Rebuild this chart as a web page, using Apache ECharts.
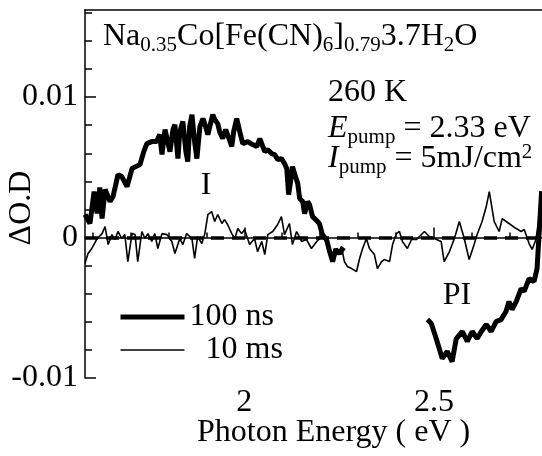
<!DOCTYPE html>
<html>
<head>
<meta charset="utf-8">
<script src="https://cdn.jsdelivr.net/npm/echarts@6/dist/echarts.min.js"></script>
<style>
  html, body { margin: 0; background: #fff; }
  #chart { width: 542px; height: 456px; }
</style>
</head>
<body>
<div id="chart"></div>
<script>
// 100 ns, low energy part (I)
const ns100LowE = [1.580, 1.593, 1.604, 1.612, 1.619, 1.625, 1.633, 1.646, 1.654, 1.667, 1.677, 1.691, 1.704, 1.714, 1.725,
  1.735, 1.743, 1.756, 1.769, 1.777, 1.783, 1.791, 1.796, 1.804, 1.812, 1.817, 1.825, 1.830, 1.838, 1.846, 1.851, 1.856,
  1.862, 1.869, 1.875, 1.883, 1.891, 1.898, 1.904, 1.909, 1.917, 1.922, 1.930, 1.935, 1.943, 1.951, 1.956, 1.967, 1.972,
  1.980, 1.988, 1.996, 2.009, 2.022, 2.033, 2.041, 2.046, 2.054, 2.062, 2.072, 2.080, 2.088, 2.098, 2.106, 2.112, 2.117,
  2.122, 2.127, 2.135, 2.141, 2.146, 2.154, 2.159, 2.167, 2.172, 2.180, 2.188, 2.198, 2.206, 2.217, 2.225, 2.233, 2.241,
  2.251, 2.262];
const ns100LowOD = [0.00164, 0.00100, 0.00327, 0.00171, 0.00356, 0.00135, 0.00342, 0.00256, 0.00292, 0.00448, 0.00434,
  0.00363, 0.00491, 0.00505, 0.00520, 0.00612, 0.00669, 0.00683, 0.00683, 0.00733, 0.00591, 0.00769, 0.00776, 0.00612,
  0.00769, 0.00804, 0.00562, 0.00754, 0.00826, 0.00612, 0.00541, 0.00790, 0.00875, 0.00683, 0.00562, 0.00790, 0.00847,
  0.00790, 0.00733, 0.00790, 0.00875, 0.00840, 0.00811, 0.00754, 0.00705, 0.00769, 0.00776, 0.00648, 0.00754, 0.00847,
  0.00754, 0.00669, 0.00683, 0.00662, 0.00648, 0.00705, 0.00705, 0.00612, 0.00626, 0.00598, 0.00591, 0.00555, 0.00562,
  0.00527, 0.00491, 0.00306, 0.00399, 0.00505, 0.00434, 0.00384, 0.00278, 0.00256, 0.00171, 0.00256, 0.00235, 0.00149,
  0.00128, 0.00100, 0.00021, -0.00014, -0.00100, -0.00171, -0.00085, -0.00114, -0.00071];

// 100 ns, high energy part (PI)
const ns100HighE = [2.483, 2.493, 2.506, 2.522, 2.535, 2.548, 2.559, 2.575, 2.588, 2.601, 2.614, 2.625, 2.638, 2.651,
  2.664, 2.677, 2.690, 2.698, 2.706, 2.717, 2.730, 2.738, 2.751, 2.764, 2.772, 2.780, 2.784];
const ns100HighOD = [-0.00584, -0.00612, -0.00719, -0.00861, -0.00811, -0.00883, -0.00719, -0.00669, -0.00740, -0.00669,
  -0.00719, -0.00669, -0.00619, -0.00669, -0.00598, -0.00584, -0.00527, -0.00456, -0.00512, -0.00456, -0.00363, -0.00384,
  -0.00292, -0.00313, -0.00221, 0.00149, 0.00330];

// 10 ms
const ms10E = [1.580, 1.588, 1.598, 1.612, 1.625, 1.633, 1.641, 1.651, 1.659, 1.667, 1.677, 1.685, 1.693, 1.704, 1.712,
  1.719, 1.730, 1.738, 1.746, 1.756, 1.764, 1.772, 1.783, 1.796, 1.809, 1.817, 1.830, 1.838, 1.848, 1.862, 1.869, 1.877,
  1.888, 1.896, 1.904, 1.914, 1.922, 1.930, 1.941, 1.948, 1.956, 1.967, 1.975, 1.983, 1.993, 2.001, 2.014, 2.027, 2.035,
  2.046, 2.054, 2.062, 2.075, 2.088, 2.098, 2.106, 2.119, 2.127, 2.138, 2.151, 2.164, 2.177, 2.191, 2.204, 2.212, 2.219,
  2.230, 2.238, 2.246, 2.256, 2.264, 2.272, 2.283, 2.296, 2.304, 2.312, 2.322, 2.330, 2.343, 2.351, 2.362, 2.369, 2.383,
  2.391, 2.401, 2.409, 2.417, 2.430, 2.441, 2.454, 2.475, 2.488, 2.501, 2.519, 2.527, 2.541, 2.554, 2.567, 2.580, 2.593,
  2.606, 2.614, 2.627, 2.638, 2.646, 2.659, 2.672, 2.680, 2.698, 2.717, 2.730, 2.738, 2.751, 2.759, 2.769, 2.777, 2.784];
const ms10OD = [-0.00185, -0.00114, -0.00078, -0.00007, 0.00028, 0.00078, -0.00050, 0.00021, -0.00014, 0.00043, -0.00007,
  0.00021, -0.00171, 0.00028, 0.00021, -0.00171, 0.00043, -0.00007, 0.00028, -0.00028, 0.00028, -0.00078, 0.00028,
  0.00021, -0.00028, -0.00114, -0.00007, -0.00050, 0.00028, -0.00007, -0.00149, 0.00007, -0.00043, 0.00028, 0.00164,
  0.00185, 0.00114, 0.00164, 0.00100, 0.00128, 0.00093, 0.00028, -0.00007, 0.00064, 0.00028, 0.00057, -0.00050, -0.00007,
  -0.00100, -0.00028, -0.00121, 0.00021, 0.00043, 0.00093, 0.00149, 0.00021, 0.00100, -0.00050, 0.00043, -0.00028,
  -0.00014, -0.00078, -0.00028, 0.00007, -0.00014, -0.00064, -0.00171, -0.00078, -0.00121, -0.00064, -0.00171, -0.00206,
  -0.00221, -0.00242, -0.00149, -0.00078, -0.00007, -0.00078, -0.00121, -0.00221, -0.00171, -0.00157, -0.00171, -0.00050,
  0.00028, 0.00043, -0.00028, -0.00078, -0.00014, -0.00014, 0.00043, 0.00007, -0.00007, -0.00028, -0.00171, -0.00100,
  -0.00007, 0.00114, -0.00007, -0.00157, -0.00050, 0.00021, 0.00114, 0.00221, 0.00327, 0.00114, 0.00043, 0.00135, 0.00100,
  0.00064, 0.00043, 0.00057, -0.00043, -0.00085, -0.00014, 0.00135, 0.00290];

// ticks
const xMinorTicks = [1.6, 1.7, 1.8, 1.9, 2.0, 2.1, 2.2, 2.3, 2.4, 2.5, 2.6, 2.7];
const xMajorTicks = [2, 2.5];
const yMinorTicks = [-0.008, -0.006, -0.004, -0.002, 0.002, 0.004, 0.006, 0.008, 0.012, 0.014, 0.016];
const yMajorTicks = [-0.01, 0, 0.01];

const FONT = 'Liberation Serif';
const FS = 32;
const SUB = 21;

const zip = (xs, ys) => xs.map((x, i) => [x, ys[i]]);
const ns100Data = zip(ns100LowE, ns100LowOD).concat([[2.37, null]], zip(ns100HighE, ns100HighOD));
const ms10Data = zip(ms10E, ms10OD);

const xMin = 1.58, xMax = 2.785;
const yMin = -0.01, yMax = 0.0162;

const txt = { fontFamily: FONT, fontSize: FS, lineHeight: 36, fill: '#000' };
const sub = { fontFamily: FONT, fontSize: SUB, lineHeight: 36, padding: [17, 0, 0, 0], fill: '#000' };
const sup = { fontFamily: FONT, fontSize: SUB, lineHeight: 36, padding: [0, 0, 13, 0], fill: '#000' };
const ital = Object.assign({}, txt, { fontStyle: 'italic' });
const plain = s => ({ text: '{m|' + s + '}', rich: { m: txt } });

const chart = echarts.init(document.getElementById('chart'));
chart.setOption({
  animation: false,
  backgroundColor: '#fff',
  grid: { left: 85, right: 0, top: 10, bottom: 78 },
  xAxis: [
    {
      type: 'value', min: xMin, max: xMax, position: 'bottom',
      axisLine: { lineStyle: { color: '#000', width: 1.5 } },
      axisTick: { inside: true, length: 5, customValues: xMinorTicks, lineStyle: { color: '#000', width: 1.5 } },
      axisLabel: {
        customValues: xMajorTicks, margin: 9, color: '#000', fontFamily: FONT, fontSize: FS,
        formatter: v => String(v)
      },
      splitLine: { show: false }
    },
    {
      type: 'value', min: xMin, max: xMax, position: 'bottom',
      axisLine: { show: false },
      axisTick: { inside: true, length: 10, customValues: xMajorTicks, lineStyle: { color: '#000', width: 1.5 } },
      axisLabel: { show: false },
      splitLine: { show: false }
    },
    {
      type: 'value', min: xMin, max: xMax, position: 'top',
      axisLine: { lineStyle: { color: '#000', width: 1.5 } },
      axisTick: { show: false },
      axisLabel: { show: false },
      splitLine: { show: false }
    }
  ],
  yAxis: [
    {
      type: 'value', min: yMin, max: yMax, position: 'left',
      axisLine: { lineStyle: { color: '#000', width: 1.5 } },
      axisTick: { inside: true, length: 7, customValues: yMinorTicks, lineStyle: { color: '#000', width: 1.5 } },
      axisLabel: {
        customValues: yMajorTicks, margin: 7, color: '#000', fontFamily: FONT, fontSize: FS,
        formatter: v => (Math.abs(v) < 1e-9 ? '0' : String(+v.toFixed(2)))
      },
      splitLine: { show: false }
    },
    {
      type: 'value', min: yMin, max: yMax, position: 'left',
      axisLine: { show: false },
      axisTick: { inside: true, length: 11, customValues: yMajorTicks, lineStyle: { color: '#000', width: 1.5 } },
      axisLabel: { show: false },
      splitLine: { show: false }
    }
  ],
  legend: {
    orient: 'vertical', left: 113, top: 296,
    itemWidth: 64, itemHeight: 28, itemGap: 1,
    textStyle: { color: '#000', fontFamily: FONT, fontSize: FS, lineHeight: 28 },
    formatter: name => (name === '10 ms' ? '  ' + name : name),
    data: [
      { name: '100 ns', lineStyle: { width: 5, color: '#000' }, itemStyle: { opacity: 0 } },
      { name: '10 ms', lineStyle: { width: 1.5, color: '#000' }, itemStyle: { opacity: 0 } }
    ]
  },
  series: [
    {
      name: '10 ms', type: 'line', data: ms10Data, showSymbol: false, symbol: 'none',
      lineStyle: { color: '#000', width: 1.6 }, itemStyle: { color: '#000' },
      markLine: {
        silent: true, symbol: 'none', label: { show: false },
        lineStyle: { color: '#000', width: 3.5, type: [13, 8] },
        data: [{ yAxis: 0 }]
      }
    },
    {
      name: '100 ns', type: 'line', data: ns100Data, showSymbol: false, symbol: 'none', connectNulls: false,
      lineStyle: { color: '#000', width: 5 }, itemStyle: { color: '#000' }
    }
  ],
  graphic: [
    {
      type: 'text', left: 103, top: 18,
      style: {
        text: '{m|Na}{s|0.35}{m|Co[Fe(CN)}{s|6}{m|]}{s|0.79}{m|3.7H}{s|2}{m|O}',
        rich: { m: txt, s: sub }
      }
    },
    { type: 'text', left: 328, top: 77, style: plain('260 K') },
    {
      type: 'text', left: 328, top: 110,
      style: { text: '{i|E}{s|pump}{m| = 2.33 eV}', rich: { i: ital, m: txt, s: sub } }
    },
    {
      type: 'text', left: 328, top: 140,
      style: { text: '{i|I}{s|pump}{m| = 5mJ/cm}{p|2}', rich: { i: ital, m: txt, s: sub, p: sup } }
    },
    {
      type: 'text', x: 206, y: 186,
      style: { text: 'I', font: FS + 'px "' + FONT + '"', fill: '#000', align: 'center', verticalAlign: 'middle' }
    },
    {
      type: 'text', x: 457, y: 296,
      style: { text: 'PI', font: FS + 'px "' + FONT + '"', fill: '#000', align: 'center', verticalAlign: 'middle' }
    },
    { type: 'text', left: 197, top: 417, style: plain('Photon Energy ( eV )') },
    {
      type: 'text', x: 22, y: 208, rotation: Math.PI / 2,
      style: { text: 'ΔO.D', font: FS + 'px "' + FONT + '"', fill: '#000', align: 'center', verticalAlign: 'middle' }
    }
  ]
});
</script>
</body>
</html>
